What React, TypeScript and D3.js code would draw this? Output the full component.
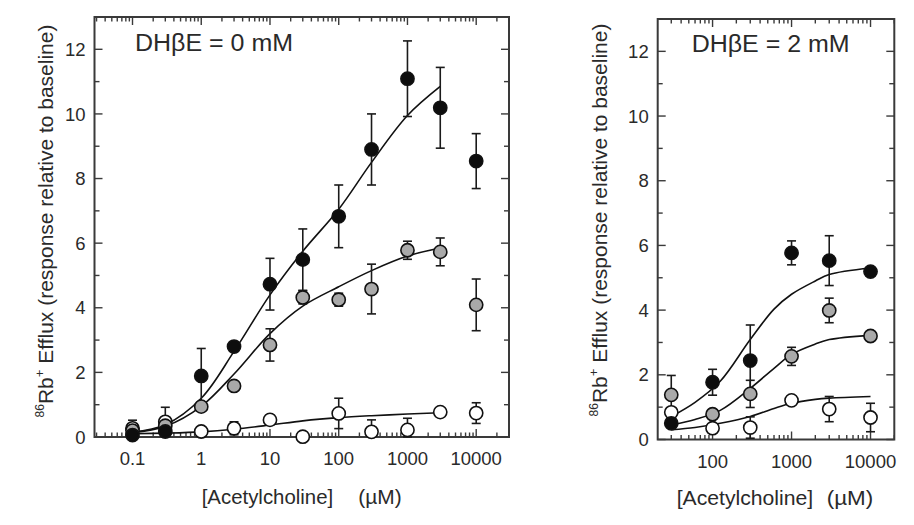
import React from "react";
import * as d3 from "d3";

// ---------- data ----------
const LEFT_X = [0.1, 0.3, 1, 3, 10, 30, 100, 300, 1000, 3000, 10000];
const LEFT_BLACK = [0.06, 0.17, 1.89, 2.8, 4.73, 5.49, 6.83, 8.9, 11.09, 10.19, 8.54];
const LEFT_BLACK_ERR = [0.05, 0.08, 0.85, 0.15, 0.8, 0.95, 0.97, 1.1, 1.17, 1.25, 0.85];
const LEFT_GRAY = [0.2, 0.35, 0.94, 1.58, 2.85, 4.32, 4.25, 4.58, 5.78, 5.73, 4.09];
const LEFT_GRAY_ERR = [0.1, 0.1, 0.1, 0.12, 0.5, 0.2, 0.2, 0.77, 0.28, 0.43, 0.8];
const LEFT_OPEN = [0.27, 0.47, 0.17, 0.27, 0.53, 0.01, 0.73, 0.16, 0.22, 0.77, 0.74];
const LEFT_OPEN_ERR = [0.25, 0.45, 0.08, 0.2, 0.15, 0.05, 0.47, 0.37, 0.36, 0.08, 0.32];

const LEFT_FIT_X = [0.1, 0.3, 1, 3, 10, 30, 100, 300, 1000, 3000];
const LEFT_FIT_BLACK = [0.15, 0.38, 1.2, 2.65, 4.4, 5.75, 7.05, 8.5, 9.95, 10.85];
const LEFT_FIT_GRAY = [0.13, 0.33, 0.95, 1.95, 3.2, 4.05, 4.65, 5.15, 5.6, 5.85];
const LEFT_FIT_OPEN = [0.1, 0.12, 0.16, 0.24, 0.37, 0.5, 0.6, 0.66, 0.71, 0.75];

const RIGHT_X = [30, 100, 300, 1000, 3000, 10000];
const RIGHT_BLACK = [0.5, 1.77, 2.44, 5.77, 5.53, 5.19];
const RIGHT_BLACK_ERR = [0.08, 0.4, 1.1, 0.37, 0.77, 0.05];
const RIGHT_GRAY = [1.38, 0.78, 1.41, 2.57, 3.99, 3.2];
const RIGHT_GRAY_ERR = [0.6, 0.15, 0.42, 0.28, 0.38, 0.05];
const RIGHT_OPEN = [0.84, 0.35, 0.37, 1.21, 0.94, 0.68];
const RIGHT_OPEN_ERR = [0.1, 0.12, 0.33, 0.08, 0.39, 0.44];

const RIGHT_FIT_X = [30, 60, 125, 300, 600, 1000, 2000, 3000, 10000];
const RIGHT_FIT_BLACK = [0.71, 1.15, 1.8, 3.09, 4.03, 4.49, 4.9, 5.1, 5.3];
const RIGHT_FIT_GRAY = [0.45, 0.62, 0.9, 1.58, 2.2, 2.63, 2.95, 3.09, 3.22];
const RIGHT_FIT_OPEN = [0.3, 0.37, 0.5, 0.71, 0.96, 1.12, 1.24, 1.28, 1.33];

const LEFT_XTICK_LABELS = ["0.1", "1", "10", "100", "1000", "10000"];
const RIGHT_XTICK_LABELS = ["100", "1000", "10000"];
const Y_TICK_LABELS = ["0", "2", "4", "6", "8", "10", "12"];

const FONT = "'Liberation Sans', Arial, Helvetica, sans-serif";
const TEXT = "#2a2a2a";
const FRAME = "#3a3a3a";

type Series = { y: number[]; err: number[]; fill: string };

type PanelProps = {
  x0: number; x1: number; y0: number; y1: number;
  xDomain: [number, number];
  xs: number[];
  series: Series[];
  fitX: number[];
  fits: number[][];
  xTickLabels: string[];
  title: string; titleX: number; titleY: number; titleW: number;
  yLabelX: number; yLabelCY: number;
  xLabA: [number, number]; xLabB: [number, number]; xLabY: number;
};

function Panel(p: PanelProps) {
  const x = d3.scaleLog().domain(p.xDomain).range([p.x0, p.x1]);
  const y = d3.scaleLinear().domain([0, 13]).range([p.y1, p.y0]);
  const line = d3
    .line<[number, number]>()
    .x((d) => x(d[0]))
    .y((d) => y(d[1]))
    .curve(d3.curveCatmullRom.alpha(0.5));

  const logTicks = x.ticks().filter((t) => t >= p.xDomain[0] && t <= p.xDomain[1]);
  const isMajor = (t: number) => Math.abs(Math.log10(t) - Math.round(Math.log10(t))) < 1e-6;
  const yTicks = d3.range(0, 14, 1);
  const r = 6.6;
  const cap = 4.5;

  return (
    <g>
      <rect x={p.x0} y={p.y0} width={p.x1 - p.x0} height={p.y1 - p.y0} fill="none" stroke={FRAME} strokeWidth={2} />
      {logTicks.map((t, i) => {
        const L = isMajor(t) ? 8 : 4.5;
        return (
          <g key={"xt" + i} stroke={FRAME} strokeWidth={1.4}>
            <line x1={x(t)} x2={x(t)} y1={p.y1} y2={p.y1 - L} />
            <line x1={x(t)} x2={x(t)} y1={p.y0} y2={p.y0 + L} />
          </g>
        );
      })}
      {yTicks.map((t) => {
        const L = t % 2 === 0 ? 8 : 5;
        return (
          <g key={"yt" + t} stroke={FRAME} strokeWidth={1.4}>
            <line x1={p.x0} x2={p.x0 + L} y1={y(t)} y2={y(t)} />
            <line x1={p.x1} x2={p.x1 - L} y1={y(t)} y2={y(t)} />
          </g>
        );
      })}
      {Y_TICK_LABELS.map((s) => (
        <text key={"yl" + s} x={p.x0 - 9} y={y(+s)} dy="0.36em" textAnchor="end" fontSize={18.5} fontFamily={FONT} fill={TEXT}>
          {s}
        </text>
      ))}
      {p.xTickLabels.map((s) => (
        <text key={"xl" + s} x={x(+s)} y={p.y1 + 28} textAnchor="middle" fontSize={18.5} fontFamily={FONT} fill={TEXT}>
          {s}
        </text>
      ))}
      {p.fits.map((f, k) => (
        <path key={"fit" + k} d={line(p.fitX.map((v, i) => [v, f[i]] as [number, number])) || ""} fill="none" stroke="#111" strokeWidth={1.6} />
      ))}
      {p.series.map((s, k) => (
        <g key={"eb" + k} stroke="#1a1a1a" strokeWidth={1.6}>
          {p.xs.map((v, i) => {
            const cx = x(v);
            const top = y(s.y[i] + s.err[i]);
            const bot = y(Math.max(0, s.y[i] - s.err[i]));
            return (
              <g key={i}>
                <line x1={cx} x2={cx} y1={top} y2={bot} />
                <line x1={cx - cap} x2={cx + cap} y1={top} y2={top} />
                <line x1={cx - cap} x2={cx + cap} y1={bot} y2={bot} />
              </g>
            );
          })}
        </g>
      ))}
      {p.series.map((s, k) => (
        <g key={"pt" + k}>
          {p.xs.map((v, i) => (
            <circle key={i} cx={x(v)} cy={y(s.y[i])} r={r} fill={s.fill} stroke="#111" strokeWidth={1.6} />
          ))}
        </g>
      ))}
      <text x={p.titleX} y={p.titleY} fontSize={23} fontFamily={FONT} fill={TEXT} textLength={p.titleW} lengthAdjust="spacingAndGlyphs">
        {p.title}
      </text>
      <text transform={`translate(${p.yLabelX},${p.yLabelCY}) rotate(-90)`} textAnchor="middle" fontSize={21} fontFamily={FONT} fill={TEXT}>
        <tspan fontSize={12} dy="-9">86</tspan>
        <tspan dy="9">Rb</tspan>
        <tspan fontSize={13} dy="-9">+</tspan>
        <tspan dy="9"> Efflux (response relative to baseline)</tspan>
      </text>
      <text x={p.xLabA[0]} y={p.xLabY} fontSize={21} fontFamily={FONT} fill={TEXT} textLength={p.xLabA[1]} lengthAdjust="spacingAndGlyphs">
        [Acetylcholine]
      </text>
      <text x={p.xLabB[0]} y={p.xLabY} fontSize={21} fontFamily={FONT} fill={TEXT} textLength={p.xLabB[1]} lengthAdjust="spacingAndGlyphs">
        (µM)
      </text>
    </g>
  );
}

export default function App() {
  return (
    <svg width={914} height={525} style={{ display: "block", position: "absolute", left: 0, top: 0, background: "#fff" }}>
      <rect x={0} y={0} width={914} height={525} fill="#fff" />
      <Panel
        x0={94.5} x1={509} y0={17} y1={437}
        xDomain={[0.028, 30000]}
        xs={LEFT_X}
        series={[
          { y: LEFT_OPEN, err: LEFT_OPEN_ERR, fill: "#ffffff" },
          { y: LEFT_GRAY, err: LEFT_GRAY_ERR, fill: "#a9a9a9" },
          { y: LEFT_BLACK, err: LEFT_BLACK_ERR, fill: "#0d0d0d" },
        ]}
        fitX={LEFT_FIT_X}
        fits={[LEFT_FIT_OPEN, LEFT_FIT_GRAY, LEFT_FIT_BLACK]}
        xTickLabels={LEFT_XTICK_LABELS}
        title="DHβE = 0 mM" titleX={135} titleY={50.5} titleW={158}
        yLabelX={53} yLabelCY={221}
        xLabA={[201.7, 131.5]} xLabB={[358.3, 43.4]} xLabY={503.5}
      />
      <Panel
        x0={657.7} x1={894.3} y0={19} y1={439.5}
        xDomain={[20.2, 20000]}
        xs={RIGHT_X}
        series={[
          { y: RIGHT_OPEN, err: RIGHT_OPEN_ERR, fill: "#ffffff" },
          { y: RIGHT_GRAY, err: RIGHT_GRAY_ERR, fill: "#a9a9a9" },
          { y: RIGHT_BLACK, err: RIGHT_BLACK_ERR, fill: "#0d0d0d" },
        ]}
        fitX={RIGHT_FIT_X}
        fits={[RIGHT_FIT_OPEN, RIGHT_FIT_GRAY, RIGHT_FIT_BLACK]}
        xTickLabels={RIGHT_XTICK_LABELS}
        title="DHβE = 2 mM" titleX={691.7} titleY={52} titleW={158}
        yLabelX={607} yLabelCY={220}
        xLabA={[676.7, 136.5]} xLabB={[826.7, 46.5]} xLabY={504.5}
      />
    </svg>
  );
}
